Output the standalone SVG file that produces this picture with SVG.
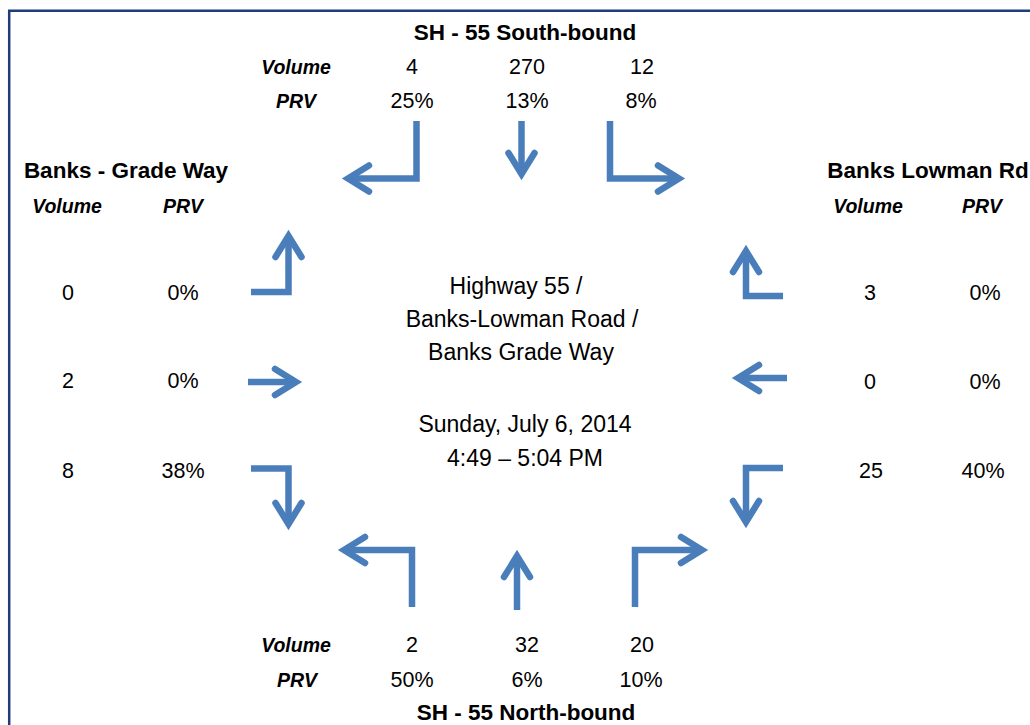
<svg xmlns="http://www.w3.org/2000/svg" width="1030" height="725" viewBox="0 0 1030 725">
<style>
text{font-family:"Liberation Sans",Arial,sans-serif;fill:#000;text-anchor:middle}
.t{font-size:22.5px;font-weight:bold}
.h{font-size:19.5px;font-weight:bold;font-style:italic}
.n{font-size:21.5px}
.c{font-size:23px}
.arr{fill:none;stroke:#4A7EBB;stroke-width:6.5;stroke-linejoin:miter;stroke-linecap:butt;marker-end:url(#ah)}
.frame{stroke:#203C7C;stroke-width:2.5;fill:none}
</style>
<defs>
<marker id="ah" markerUnits="userSpaceOnUse" markerWidth="60" markerHeight="60" viewBox="-30 -30 60 60" refX="0" refY="0" orient="auto" overflow="visible">
<path d="M-21,-13 L0,0 L-21,13" fill="none" stroke="#4A7EBB" stroke-width="6.5" stroke-linecap="round" stroke-linejoin="miter"/>
</marker>
</defs>
<rect width="1030" height="725" fill="#fff"/>
<path class="frame" d="M9.2,725 V10.7 H1030"/>

<g id="southbound">
<text class="t" x="525" y="40">SH - 55 South-bound</text>
<text class="h" x="296" y="74">Volume</text>
<text class="n" x="412" y="74">4</text>
<text class="n" x="527" y="74">270</text>
<text class="n" x="642" y="74">12</text>
<text class="h" x="296" y="108">PRV</text>
<text class="n" x="412" y="108">25%</text>
<text class="n" x="527" y="108">13%</text>
<text class="n" x="641" y="108">8%</text>
</g>

<g id="banks-grade-way">
<text class="t" x="126" y="178">Banks - Grade Way</text>
<text class="h" x="67" y="213">Volume</text>
<text class="h" x="183" y="213">PRV</text>
<text class="n" x="68" y="300">0</text>
<text class="n" x="183" y="300">0%</text>
<text class="n" x="68" y="388">2</text>
<text class="n" x="183" y="388">0%</text>
<text class="n" x="68" y="478">8</text>
<text class="n" x="183" y="478">38%</text>
</g>

<g id="banks-lowman-rd">
<text class="t" x="928" y="178">Banks Lowman Rd</text>
<text class="h" x="868" y="213">Volume</text>
<text class="h" x="982" y="213">PRV</text>
<text class="n" x="870" y="300">3</text>
<text class="n" x="985" y="300">0%</text>
<text class="n" x="870" y="389">0</text>
<text class="n" x="985" y="389">0%</text>
<text class="n" x="871" y="478">25</text>
<text class="n" x="983" y="478">40%</text>
</g>

<g id="northbound">
<text class="h" x="296" y="652">Volume</text>
<text class="n" x="412" y="652">2</text>
<text class="n" x="527" y="652">32</text>
<text class="n" x="642" y="652">20</text>
<text class="h" x="297" y="687">PRV</text>
<text class="n" x="412" y="687">50%</text>
<text class="n" x="527" y="687">6%</text>
<text class="n" x="641" y="687">10%</text>
<text class="t" x="526" y="720">SH - 55 North-bound</text>
</g>

<g id="intersection">
<text class="c" x="516" y="294">Highway 55 /</text>
<text class="c" x="522" y="327">Banks-Lowman Road /</text>
<text class="c" x="521" y="360">Banks Grade Way</text>
<text class="c" x="525" y="432">Sunday, July 6, 2014</text>
<text class="c" x="525" y="466">4:49 – 5:04 PM</text>
</g>

<g id="connectors">
<path class="arr" d="M416.5,121 V178.5 H348"/>
<path class="arr" d="M521.5,121 V174"/>
<path class="arr" d="M610,121 V178.5 H679"/>
<path class="arr" d="M251,292 H288.5 V236"/>
<path class="arr" d="M248,382 H296"/>
<path class="arr" d="M251,468.5 H288.5 V524"/>
<path class="arr" d="M783,296 H746 V251"/>
<path class="arr" d="M787,378 H738"/>
<path class="arr" d="M783,468 H746 V522"/>
<path class="arr" d="M412,607 V550 H344"/>
<path class="arr" d="M517,610 V556"/>
<path class="arr" d="M635,607 V550 H702"/>
</g>
</svg>
